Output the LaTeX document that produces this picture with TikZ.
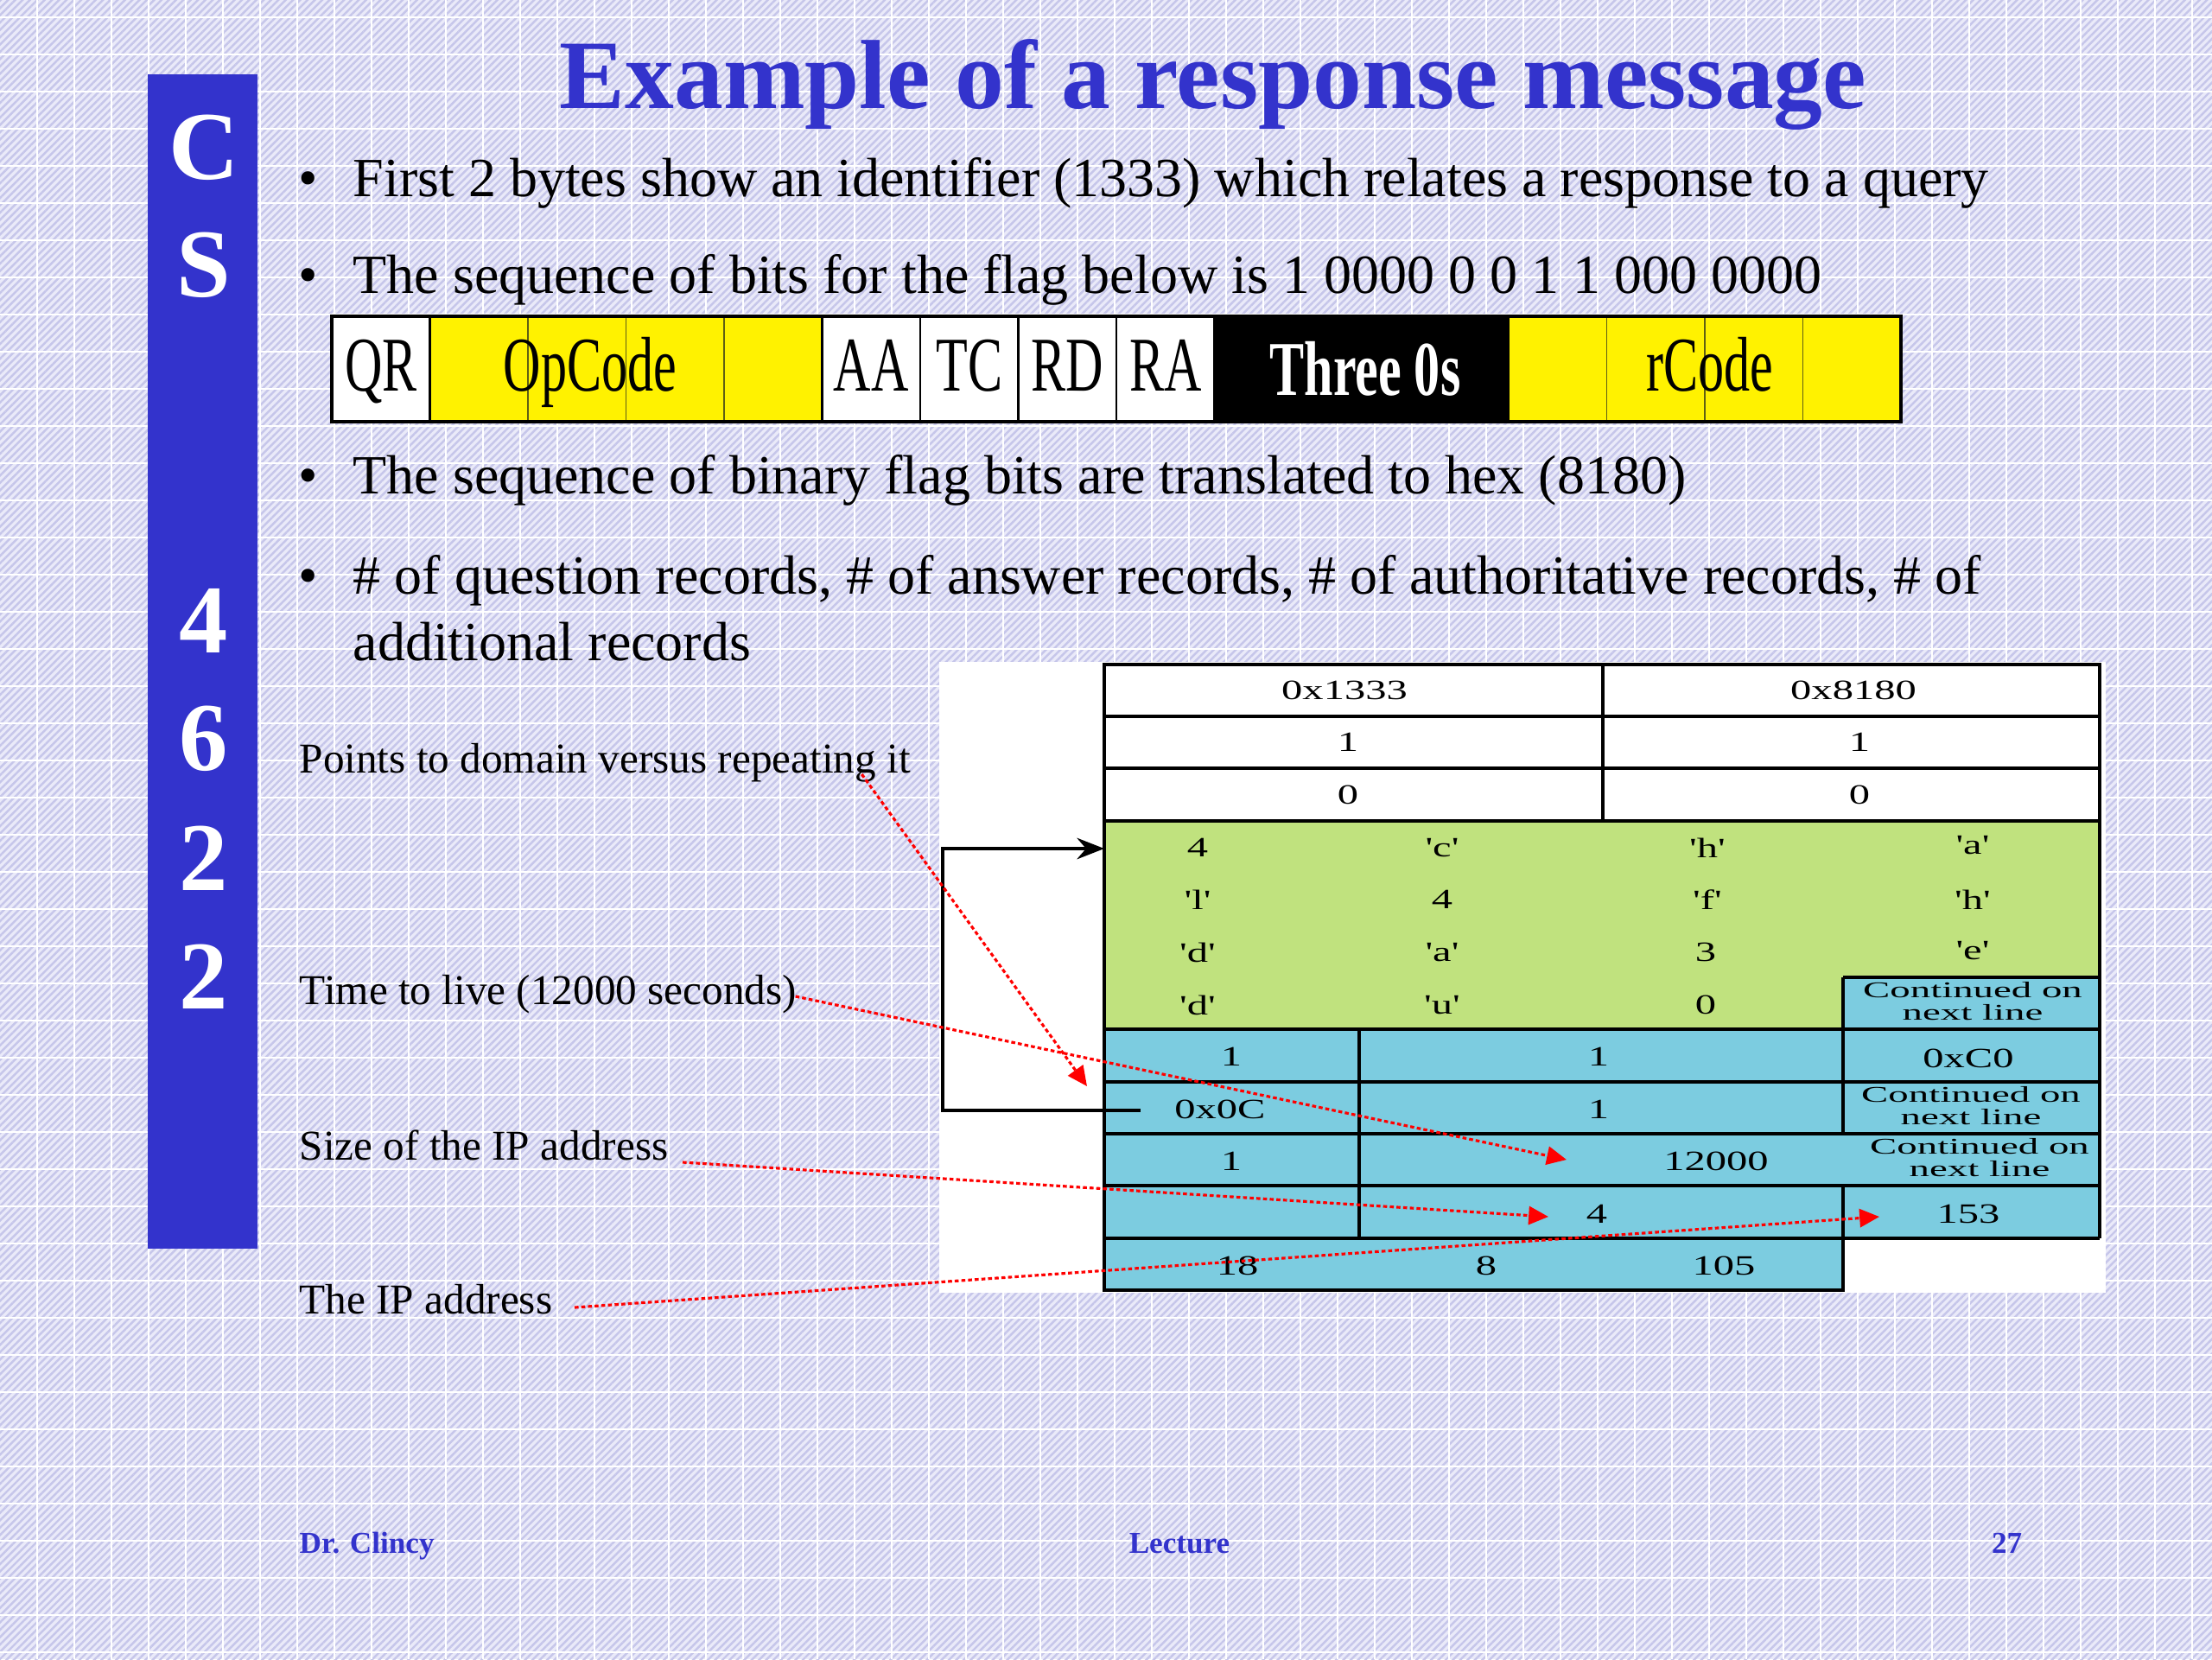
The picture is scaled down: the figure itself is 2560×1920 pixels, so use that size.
\documentclass[tikz,border=0pt]{standalone}
\usepackage{graphicx}
\usepackage{fontspec}
\setmainfont{Liberation Serif}
\usetikzlibrary{arrows.meta,patterns.meta,calc}
\definecolor{csblue}{RGB}{51,51,204}
\definecolor{bgbase}{RGB}{234,234,249}
\definecolor{bghatch}{RGB}{198,198,234}
\definecolor{cellgreen}{RGB}{192,226,126}
\definecolor{cellblue}{RGB}{124,204,224}
\definecolor{flagdiv}{RGB}{95,95,20}
\newcommand{\fq}[1]{\textquotesingle#1\textquotesingle}
\newcommand{\tw}[1]{\scalebox{1.5}[1]{#1}}
\newcommand{\cw}[1]{\scalebox{1.8}[1]{#1}}
\newcommand{\nar}[1]{\scalebox{0.67}[1]{#1}}
\newcommand{\contd}{\cw{\begin{tabular}{@{}c@{}}Continued on\\[-1.2pt]next line\end{tabular}}}
\tikzset{
  barletter/.style={font=\fontsize{32}{38}\selectfont\bfseries, text=white, inner sep=0pt},
  titletxt/.style={font=\fontsize{32.3}{38}\selectfont\bfseries, text=csblue, inner sep=0pt},
  bultxt/.style={font=\fontsize{18.2}{21.8}\selectfont, inner sep=0pt},
  lbltxt/.style={font=\fontsize{14}{17}\selectfont, inner sep=0pt},
  foot/.style={font=\fontsize{10}{12}\selectfont\bfseries, text=csblue, inner sep=0pt},
  flagtxt/.style={font=\fontsize{25.5}{30}\selectfont, inner sep=0pt, anchor=base},
  cell/.style={font=\fontsize{9.2}{10}\selectfont, inner sep=0pt},
  contcell/.style={font=\fontsize{7.4}{8.6}\selectfont, inner sep=0pt},
  tline/.style={draw=black, line width=1pt},
  pointer/.style={red, line width=0.9pt, dash pattern=on 1.3pt off 0.9pt, -{Triangle[length=6.5pt,width=6pt]}},
  loopline/.style={black, line width=0.9pt, -{Stealth[length=9pt,width=7pt,inset=3pt]}},
}
\begin{document}
\begin{tikzpicture}[x=0.01cm,y=-0.01cm]
\useasboundingbox (0,0) rectangle (2560,1920);
% background
\fill[bgbase] (0,0) rectangle (2560,1920);
\fill[pattern={Lines[angle=45,distance=1.7pt,line width=0.7pt]}, pattern color=bghatch] (0,0) rectangle (2560,1920);
\foreach \i in {1,...,59} \draw[white,line width=0.6pt] ({43*\i},0) -- ({43*\i},1920);
\foreach \j in {0,...,44} \draw[white,line width=0.6pt] (0,{20+43*\j}) -- (2560,{20+43*\j});
% side bar
\fill[csblue] (171,86) rectangle (298,1445);
\node[barletter] (lC) at (236,171) {C};
\node[barletter] (lS) at (236,307) {S};
\node[barletter] (l4) at (236,718) {4};
\node[barletter] (l6) at (236,855) {6};
\node[barletter] (l2a) at (236,993) {2};
\node[barletter] (l2b) at (236,1130) {2};
% title
\node[titletxt, anchor=base] (title) at (1404,125) {Example of a response message};
% bullets
\node[bultxt, anchor=base] (d1) at (357,227) {\textbullet};
\node[bultxt, anchor=base west] (t1) at (408,227) {First 2 bytes show an identifier (1333) which relates a response to a query};
\node[bultxt, anchor=base] (d2) at (357,339) {\textbullet};
\node[bultxt, anchor=base west] (t2) at (408,339) {The sequence of bits for the flag below is 1 0000 0 0 1 1 000 0000};
\node[bultxt, anchor=base] (d3) at (357,571) {\textbullet};
\node[bultxt, anchor=base west] (t3) at (408,571) {The sequence of binary flag bits are translated to hex (8180)};
\node[bultxt, anchor=base] (d4) at (357,687) {\textbullet};
\node[bultxt, anchor=base west] (t4a) at (408,687) {\# of question records, \# of answer records, \# of authoritative records, \# of};
\node[bultxt, anchor=base west] (t4b) at (408,764) {additional records};
% flag bar
\foreach \k/\c in {0/white,1/yellow,2/yellow,3/yellow,4/yellow,5/white,6/white,7/white,8/white,9/black,10/black,11/black,12/yellow,13/yellow,14/yellow,15/yellow}
  \fill[\c] ({384+113.5*\k},366) rectangle ({497.5+113.5*\k},488);
\foreach \k in {2,3,4,13,14,15} \draw[flagdiv,line width=0.5pt] ({384+113.5*\k},368) -- ({384+113.5*\k},486);
\foreach \k in {1,5,6,7,8,9,12} \draw[black,line width=0.8pt] ({384+113.5*\k},366) -- ({384+113.5*\k},488);
\draw[black,line width=1pt] (384,366) rectangle (2200,488);
\node[flagtxt] (fQR) at (441,452) {\nar{QR}};
\node[flagtxt] (fOp) at (683,452) {\nar{OpCode}};
\node[flagtxt] (fAA) at (1008,452) {\nar{AA}};
\node[flagtxt] (fTC) at (1122,452) {\nar{TC}};
\node[flagtxt] (fRD) at (1235,452) {\nar{RD}};
\node[flagtxt] (fRA) at (1349,452) {\nar{RA}};
\node[flagtxt, text=white, font=\fontsize{25.5}{30}\selectfont\bfseries] (f0s) at (1580,457) {\nar{Three 0s}};
\node[flagtxt] (frC) at (1979,452) {\nar{rCode}};
% table backdrop and fills
\fill[white] (1087,766) rectangle (2437,1496);
\fill[cellgreen] (1278,950) rectangle (2430,1191);
\fill[cellblue] (2133,1131) rectangle (2430,1191);
\fill[cellblue] (1278,1191) rectangle (2430,1433);
\fill[cellblue] (1278,1433) rectangle (2133,1493);
% table lines
\draw[tline] (1278,769) rectangle (2430,950);
\draw[tline] (1278,829) -- (2430,829);
\draw[tline] (1278,889) -- (2430,889);
\draw[tline] (1855,769) -- (1855,950);
\draw[tline] (1278,950) -- (1278,1493) -- (2133,1493) -- (2133,1372);
\draw[tline] (2430,950) -- (2430,1433);
\draw[tline] (2133,1131) -- (2430,1131);
\draw[tline] (1278,1191) -- (2430,1191);
\foreach \y in {1252,1312,1372,1433} \draw[tline] (1278,\y) -- (2430,\y);
\draw[tline] (1573,1191) -- (1573,1433);
\draw[tline] (2133,1131) -- (2133,1312);
% table text
\node[cell] (h1) at (1556,799) {\tw{0x1333}};
\node[cell] (h2) at (2145,799) {\tw{0x8180}};
\node[cell] (q1) at (1560,859) {\tw{1}};
\node[cell] (q2) at (2152,859) {\tw{1}};
\node[cell] (z1) at (1560,920) {\tw{0}};
\node[cell] (z2) at (2152,920) {\tw{0}};
\node[cell] (g31) at (1386,981) {\tw{4}};
\node[cell] (g32) at (1669,981) {\tw{\fq{c}}};
\node[cell] (g33) at (1976,981) {\tw{\fq{h}}};
\node[cell] (g34) at (2283,978) {\tw{\fq{a}}};
\node[cell] (g41) at (1386,1041) {\tw{\fq{l}}};
\node[cell] (g42) at (1669,1041) {\tw{4}};
\node[cell] (g43) at (1976,1041) {\tw{\fq{f}}};
\node[cell] (g44) at (2283,1041) {\tw{\fq{h}}};
\node[cell] (g51) at (1386,1102) {\tw{\fq{d}}};
\node[cell] (g52) at (1669,1102) {\tw{\fq{a}}};
\node[cell] (g53) at (1974,1102) {\tw{3}};
\node[cell] (g54) at (2283,1100) {\tw{\fq{e}}};
\node[cell] (g61) at (1386,1163) {\tw{\fq{d}}};
\node[cell] (g62) at (1669,1163) {\tw{\fq{u}}};
\node[cell] (g63) at (1974,1163) {\tw{0}};
\node[contcell] (c6) at (2283,1161) {\contd};
\node[cell] (b71) at (1425,1223) {\tw{1}};
\node[cell] (b72) at (1850,1223) {\tw{1}};
\node[cell] (b73) at (2278,1225) {\tw{0xC0}};
\node[cell] (b81) at (1412,1284) {\tw{0x0C}};
\node[cell] (b82) at (1850,1284) {\tw{1}};
\node[contcell] (c8) at (2281,1282) {\contd};
\node[cell] (b91) at (1425,1344) {\tw{1}};
\node[cell] (b92) at (1986,1344) {\tw{12000}};
\node[contcell] (c9) at (2291,1342) {\contd};
\node[cell] (b102) at (1848,1405) {\tw{4}};
\node[cell] (b103) at (2278,1405) {\tw{153}};
\node[cell] (b111) at (1432,1465) {\tw{18}};
\node[cell] (b112) at (1720,1465) {\tw{8}};
\node[cell] (b113) at (1995,1465) {\tw{105}};
% pointer loop
\coordinate (loopS) at (1320,1285);
\coordinate (loopE) at (1278,982);
\draw[loopline] (loopS) -- ++(-229,0) |- (loopE);
% labels
\node[lbltxt, anchor=base west] (lp) at (346,894) {Points to domain versus repeating it};
\node[lbltxt, anchor=base west] (lt) at (346,1162) {Time to live (12000 seconds)};
\node[lbltxt, anchor=base west] (ls) at (346,1342) {Size of the IP address};
\node[lbltxt, anchor=base west] (lip) at (346,1520) {The IP address};
\coordinate (tA) at (1258,1257);
\coordinate (tB) at (1813,1342);
\coordinate (tC) at (1792,1408);
\coordinate (tD) at (2175,1408);
\draw[pointer] ($(lp.base east)+(-57,2)$) -- (tA);
\draw[pointer] ($(lt.base east)+(-2,-9)$) -- (tB);
\draw[pointer] ($(ls.base east)+(16,3)$) -- (tC);
\draw[pointer] ($(lip.base east)+(25,-7)$) -- (tD);
% footer
\node[foot, anchor=base west] (fa) at (346,1797) {Dr. Clincy};
\node[foot, anchor=base] (fl) at (1365,1797) {Lecture};
\node[foot, anchor=base east] (fn) at (2341,1797) {27};
\end{tikzpicture}
\end{document}
